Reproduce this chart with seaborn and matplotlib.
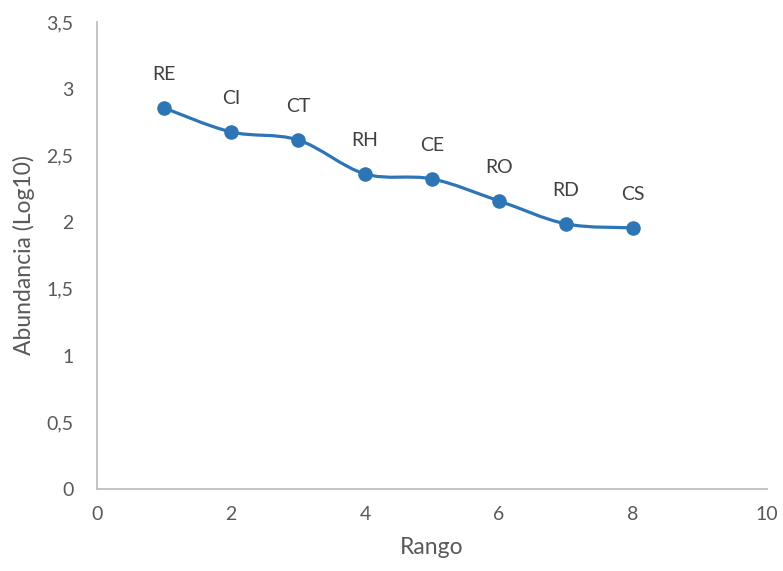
import matplotlib
matplotlib.use("Agg")
import matplotlib.pyplot as plt
from matplotlib.path import Path
from matplotlib.patches import PathPatch
from matplotlib.ticker import FuncFormatter
import numpy as np
import pandas as pd
import seaborn as sns

# Data
rango = [1, 2, 3, 4, 5, 6, 7, 8]
abundancia = [2.856, 2.676, 2.616, 2.361, 2.324, 2.159, 1.987, 1.957]
especies = ["RE", "CI", "CT", "RH", "CE", "RO", "RD", "CS"]
x_ticks = [0, 2, 4, 6, 8, 10]
y_ticks = [0, 0.5, 1, 1.5, 2, 2.5, 3, 3.5]

df = pd.DataFrame({"Rango": rango, "Abundancia": abundancia, "Especie": especies})

sns.set_theme(style="white")
plt.rcParams["font.family"] = ["Lato", "DejaVu Sans"]

TXT = "#595959"
BLUE = "#2E75B6"

fig = plt.figure(figsize=(7.83, 5.71), dpi=100)
ax = fig.add_axes([0.1239, 0.1436, 0.8557, 0.8179])

# Smoothed line (Excel-style Bezier through the points)
xs = np.array(rango, dtype=float)
ys = np.array(abundancia, dtype=float)
n = len(xs)
verts = [(xs[0], ys[0])]
codes = [Path.MOVETO]
for i in range(n - 1):
    p0 = np.array([xs[max(i - 1, 0)], ys[max(i - 1, 0)]])
    p1 = np.array([xs[i], ys[i]])
    p2 = np.array([xs[i + 1], ys[i + 1]])
    p3 = np.array([xs[min(i + 2, n - 1)], ys[min(i + 2, n - 1)]])
    c1 = p1 + (p2 - p0) / 6.0
    c2 = p2 - (p3 - p1) / 6.0
    verts += [tuple(c1), tuple(c2), tuple(p2)]
    codes += [Path.CURVE4] * 3
patch = PathPatch(Path(verts, codes), facecolor="none", edgecolor=BLUE,
                  lw=2.3, capstyle="round", joinstyle="round", zorder=2)
ax.add_patch(patch)

sns.scatterplot(data=df, x="Rango", y="Abundancia", ax=ax, color=BLUE,
                s=110, edgecolor=BLUE, linewidth=0, zorder=3, legend=False)

for xi, yi, lab in zip(rango, abundancia, especies):
    ax.annotate(lab, (xi, yi), xytext=(0, 24), textcoords="offset points",
                ha="center", va="center", fontsize=14, color="#404040")

ax.set_xlim(0, 10)
ax.set_ylim(0, 3.5)
ax.set_xticks(x_ticks)
ax.set_yticks(y_ticks)
fmt = FuncFormatter(lambda v, p: (f"{v:g}").replace(".", ","))
ax.xaxis.set_major_formatter(fmt)
ax.yaxis.set_major_formatter(fmt)
ax.tick_params(axis="both", length=0, labelsize=14, colors=TXT)
ax.tick_params(axis="y", pad=17)
ax.tick_params(axis="x", pad=12)

for s in ["top", "right"]:
    ax.spines[s].set_visible(False)
for s in ["left", "bottom"]:
    ax.spines[s].set_color("#BFBFBF")
    ax.spines[s].set_linewidth(1.3)

ax.set_xlabel("Rango", fontsize=16.5, color=TXT, labelpad=10)
ax.set_ylabel("Abundancia (Log10)", fontsize=16.5, color=TXT, labelpad=8)
ax.grid(False)

fig.savefig("out.png", dpi=100)
